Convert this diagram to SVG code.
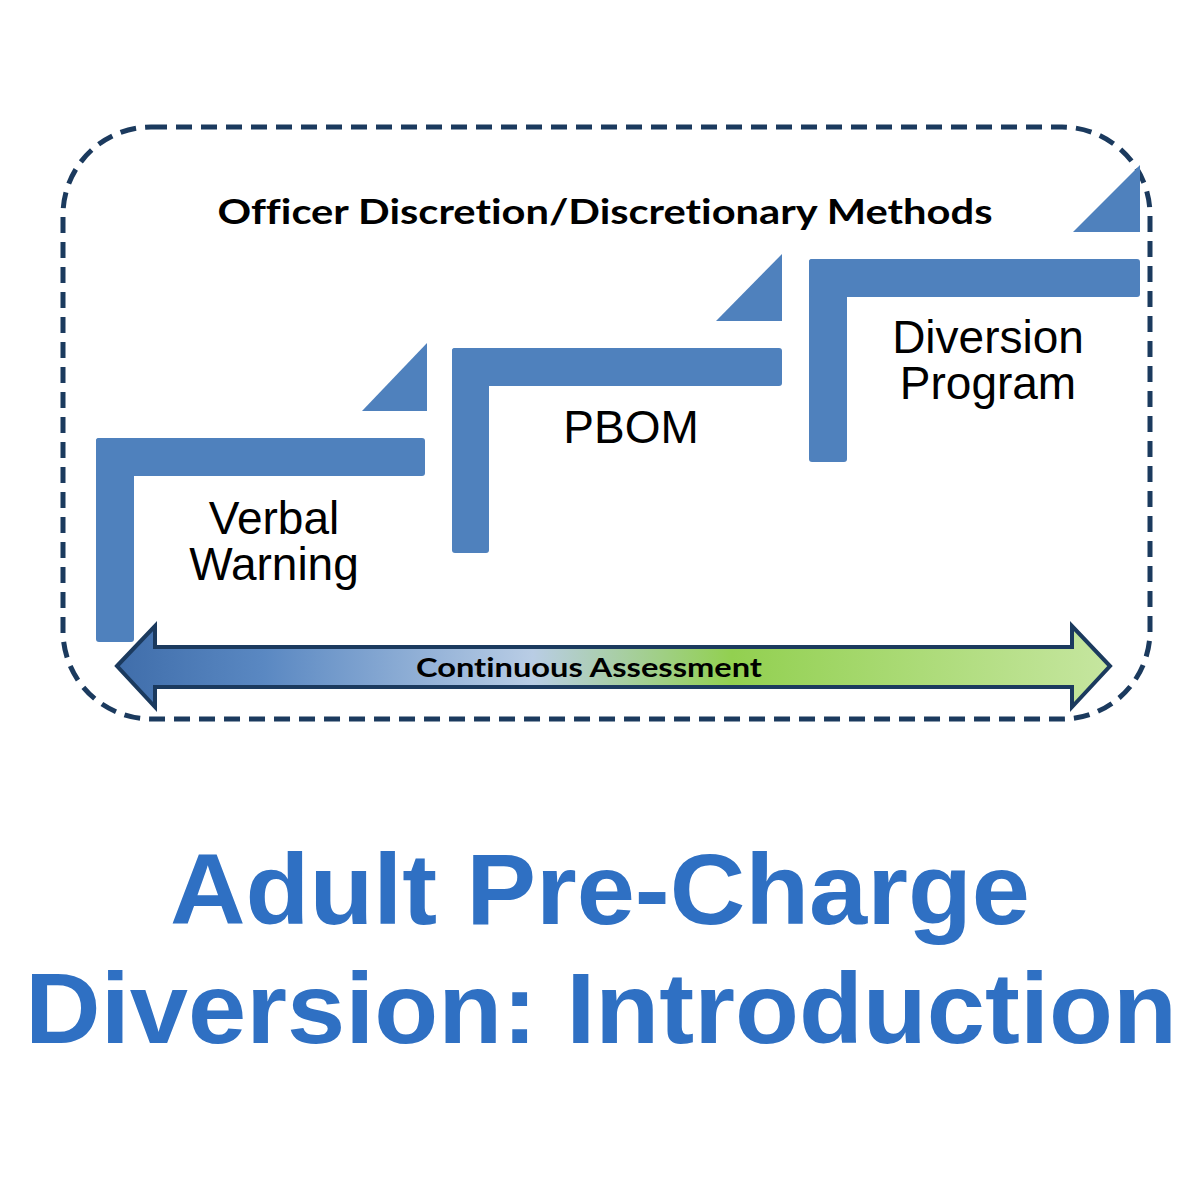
<svg xmlns="http://www.w3.org/2000/svg" width="1200" height="1200" viewBox="0 0 1200 1200">
<defs>
<style>
.step{fill:#4F81BD}
.lbl{font-family:"Liberation Sans",Arial,sans-serif;font-size:46px;fill:#000;text-anchor:middle}
.cal{font-family:Lato,"Open Sans",sans-serif;font-weight:bold;fill:#000;text-anchor:middle;font-variant-ligatures:none}
.title{font-family:"Liberation Sans",Arial,sans-serif;font-weight:bold;font-size:100px;fill:#2F70C3;text-anchor:middle}
</style>
<linearGradient id="ag" x1="115" y1="0" x2="1110" y2="0" gradientUnits="userSpaceOnUse">
<stop offset="0" stop-color="#3F6DAA"/>
<stop offset="0.15" stop-color="#5A88C2"/>
<stop offset="0.42" stop-color="#B9CDE5"/>
<stop offset="0.62" stop-color="#92D050"/>
<stop offset="1" stop-color="#C6E6A0"/>
</linearGradient>
</defs>
<rect width="1200" height="1200" fill="#fff"/>
<g id="frame">
<rect x="63" y="127" width="1087" height="592" rx="88" ry="88" fill="none" stroke="#1B3A5E" stroke-width="5" stroke-dasharray="16 9"/>
</g>
<g id="heading">
<text class="cal" x="605" y="224" font-size="35" textLength="775" lengthAdjust="spacingAndGlyphs">Officer Discretion/Discretionary Methods</text>
</g>
<g id="step1">
<rect class="step" x="96" y="438" width="38" height="204" rx="3"/>
<rect class="step" x="96" y="438" width="329" height="38" rx="3"/>
<polygon class="step" points="362,411 427,343 427,411"/>
<text class="lbl" x="274" y="534">Verbal</text>
<text class="lbl" x="274" y="580">Warning</text>
</g>
<g id="step2">
<rect class="step" x="452" y="348" width="37" height="205" rx="3"/>
<rect class="step" x="452" y="348" width="330" height="38" rx="3"/>
<polygon class="step" points="716,321 782,254 782,321"/>
<text class="lbl" x="631" y="443">PBOM</text>
</g>
<g id="step3">
<rect class="step" x="809" y="259" width="38" height="203" rx="3"/>
<rect class="step" x="809" y="259" width="331" height="38" rx="3"/>
<polygon class="step" points="1073,232 1140,165 1140,232"/>
<text class="lbl" x="988" y="353">Diversion</text>
<text class="lbl" x="988" y="399">Program</text>
</g>
<g id="connectors">
<polygon points="117,666 155,626 155,647 1072,647 1072,626 1110,666 1072,707 1072,687 155,687 155,707" fill="url(#ag)" stroke="#1B3A5E" stroke-width="4" stroke-linejoin="miter"/>
<text class="cal" x="589" y="677" font-size="27" textLength="346" lengthAdjust="spacingAndGlyphs">Continuous Assessment</text>
</g>
<g id="title">
<text class="title" x="600" y="924" textLength="860" lengthAdjust="spacingAndGlyphs">Adult Pre-Charge</text>
<text class="title" x="601" y="1043" textLength="1152" lengthAdjust="spacingAndGlyphs">Diversion: Introduction</text>
</g>
</svg>
